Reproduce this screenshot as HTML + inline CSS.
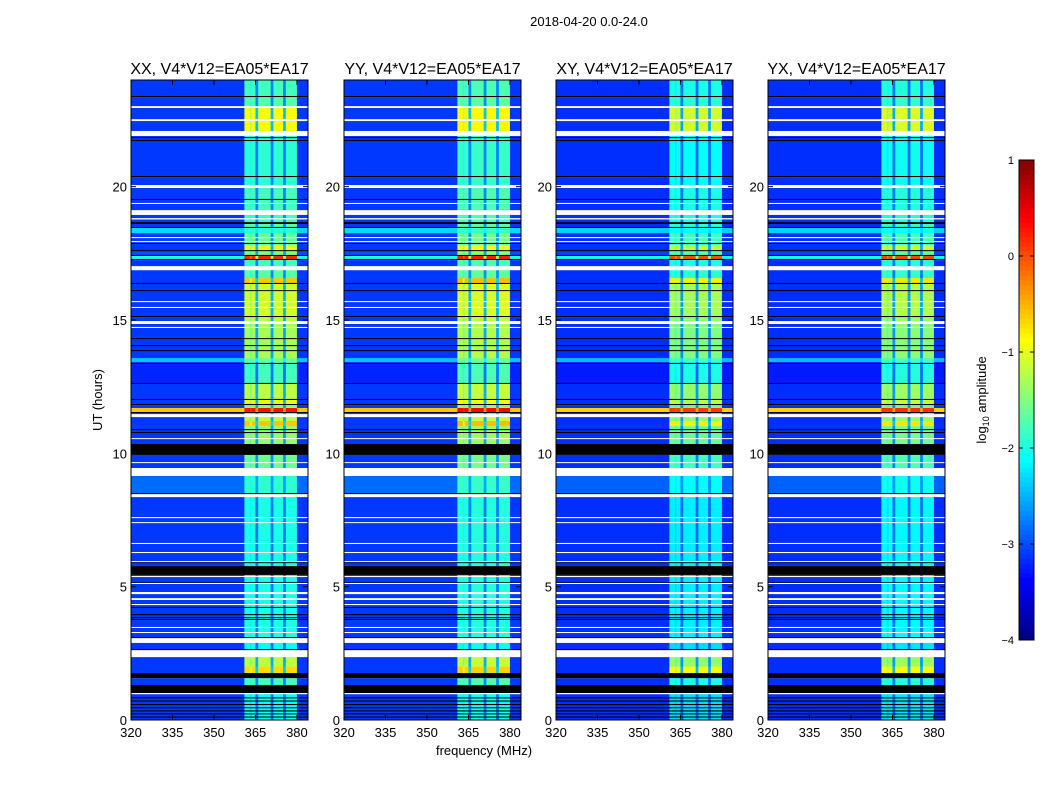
<!DOCTYPE html>
<html><head><meta charset="utf-8">
<style>
body{margin:0;background:#fff;}
svg{display:block;font-family:"Liberation Sans",sans-serif;}
</style></head>
<body>
<svg id="chart" width="1050" height="800" xmlns="http://www.w3.org/2000/svg">
<text x="589" y="26" font-size="13" text-anchor="middle">2018-04-20 0.0-24.0</text>
<text x="484" y="755" font-size="13" text-anchor="middle">frequency (MHz)</text>
<text x="0" y="0" font-size="13" text-anchor="middle" transform="translate(102,400) rotate(-90)">UT (hours)</text>
<text x="0" y="0" font-size="13" text-anchor="middle" transform="translate(986,400) rotate(-90)">log<tspan font-size="9" dy="3">10</tspan><tspan dy="-3"> amplitude</tspan></text>
<g id="panels"></g>
<g id="cbar"></g>
</svg>
<script>
// ---- data ----
const panelNames = ["XX", "YY", "XY", "YX"];
const panelBandOffset = [0, 0.05, -0.2, -0.15];
const panelBgOffset = [0, 0, -0.05, -0.05];
const xTicks = [320, 335, 350, 365, 380];
const yTicks = [0, 5, 10, 15, 20];
const cbarTicks = [1, 0, -1, -2, -3, -4];
const cbarLabels = ["1", "0", "\u22121", "\u22122", "\u22123", "\u22124"];
// channel edges (MHz) and band weight (0 = background, 1 = full band level)
const chanEdges = [320, 361, 363, 363.6, 365, 366, 370.5, 371.5, 375, 376, 380, 384];
const chanWeight = [0, 1, 0.85, 1, 0.3, 1, 0.3, 1, 0.3, 1, 0];
// data segments: [topHour, bottomHour, backgroundLog, bandLog]
const dataSegs = [
[24,23.40,-3.1,-1.8],[23.36,22.95,-3.1,-1.7],[22.95,22.10,-3.1,-0.9],[21.90,20.40,-3.1,-1.9],
[20.36,20.06,-3.1,-1.9],[19.95,18.67,-3.1,-1.8],[18.60,18.45,-3.1,-1.7],[18.45,18.26,-2.3,-1.9],
[18.26,17.81,-3.1,-1.6],[17.81,17.62,-3.1,-1.0],[17.59,17.44,-3.0,-1.5],[17.40,17.29,-2.0,0.2],
[17.25,17.02,-3.1,-1.8],[16.87,16.57,-3.1,-1.7],[16.57,16.39,-3.1,-0.6],[16.35,15.15,-3.1,-1.1],
[15.11,14.96,-3.1,-1.2],[14.85,13.57,-3.1,-1.3],[13.57,13.42,-2.4,-1.6],[13.42,12.64,-3.2,-1.8],
[12.60,12.04,-3.1,-1.2],[12.00,11.85,-3.1,-1.0],[11.81,11.70,-3.1,-1.4],[11.70,11.55,-0.6,0.3],
[11.51,11.47,-3.1,-1.5],[11.36,11.21,-3.1,-1.2],[11.21,11.02,-3.1,-0.6],[11.02,10.35,-3.1,-1.4],
[9.94,9.45,-3.1,-1.6],[9.15,8.51,-2.85,-1.9],[8.36,5.77,-3.1,-2.0],[5.44,5.10,-3.1,-2.0],
[5.10,2.89,-3.1,-2.0],[2.89,2.66,-3.1,-2.1],[2.36,2.00,-3.1,-1.2],[2.00,1.76,-3.1,-0.7],
[1.57,1.31,-3.1,-1.8],[0.97,0,-3.1,-2.1]
];
// flagged (blanked) rows
const whiteFlags = [
[23.02,22.95],[22.53,22.46],[22.08,21.90],[20.06,19.95],[19.39,19.35],[19.12,18.94],[18.82,18.77],
[18.11,18.07],[17.96,17.92],[17.02,16.87],[15.71,15.67],[15.49,15.45],[14.96,14.85],[14.74,14.70],
[11.47,11.36],[10.57,10.54],[9.67,9.64],[9.45,9.15],[8.44,8.36],[7.61,7.57],[7.42,7.39],[6.64,6.60],
[6.30,6.26],[5.96,5.92],[5.40,5.36],[5.14,5.10],[4.80,4.72],[4.57,4.50],[4.35,4.31],[3.49,3.45],
[3.30,3.26],[3.07,2.89],[2.59,2.36],[1.01,0.97]
];
const blackFlags = [
[10.35,9.94],[5.77,5.44],[1.76,1.57],[1.31,1.01],
[23.40,23.36],[21.86,21.82],[21.75,21.71],[20.40,20.36],[19.54,19.50],[18.67,18.60],[18.49,18.45],
[17.89,17.85],[17.62,17.59],[17.44,17.40],[17.29,17.25],[16.39,16.35],[16.12,16.09],[15.15,15.11],
[14.32,14.29],[14.06,14.02],[13.87,13.84],[13.39,13.35],[12.64,12.60],[12.04,12.00],[11.85,11.81],
[11.55,11.51],[10.91,10.87],[10.80,10.76],[8.51,8.47],[5.92,5.89],[5.17,5.14],[4.24,4.20],[3.97,3.94],
[3.86,3.82],[3.79,3.75],[3.11,3.07],[2.66,2.62],[0.85,0.81],[0.73,0.69],[0.60,0.56],[0.48,0.44],
[0.36,0.32],[0.25,0.21],[0.13,0.09]
];
const vmin = -4, vmax = 1;

// ---- layout ----
const NS = "http://www.w3.org/2000/svg";
const panelX = [131, 344, 556, 768];
const PW = 177, PT = 80, PB = 720;
const fMin = 320, fMax = 384, hMax = 24;
function xS(p, f){ return panelX[p] + (f - fMin) / (fMax - fMin) * PW; }
function yS(h){ return PB - h / hMax * (PB - PT); }
function cl(v){ return Math.max(0, Math.min(1, v)); }
function jet(v){
  const t = cl((v - vmin) / (vmax - vmin));
  const r = cl(1.5 - Math.abs(4*t - 3)), g = cl(1.5 - Math.abs(4*t - 2)), b = cl(1.5 - Math.abs(4*t - 1));
  return "rgb(" + Math.round(r*255) + "," + Math.round(g*255) + "," + Math.round(b*255) + ")";
}
function mk(tag, attrs, parent){
  const e = document.createElementNS(NS, tag);
  for (const k in attrs) e.setAttribute(k, attrs[k]);
  parent.appendChild(e); return e;
}
const panels = document.getElementById("panels");
panelNames.forEach((nm, p) => {
  const g = mk("g", {}, panels);
  
  
  const bg = mk("rect", {x: panelX[p], y: PT, width: PW, height: PB - PT, fill: "#fff"}, g);
  
  
  dataSegs.forEach(s => {
    for (let c = 0; c < chanWeight.length; c++) {
      const bgv = s[2] + panelBgOffset[p];
      const bandv = s[3] + panelBandOffset[p];
      const v = bgv + chanWeight[c] * (bandv - bgv);
      const x1 = xS(p, chanEdges[c]), x2 = xS(p, chanEdges[c+1]);
      const r = mk("rect", {x: x1, y: yS(s[0]), width: x2 - x1 + 0.3, height: yS(s[1]) - yS(s[0]) + 0.3, fill: jet(v)}, g);
      
      
    }
  });
  blackFlags.forEach(f => {
    const r = mk("rect", {x: panelX[p], y: yS(f[0]), width: PW, height: Math.max(1, yS(f[1]) - yS(f[0])), fill: "#000"}, g);
    
    
  });
  whiteFlags.forEach(f => {
    const r = mk("rect", {x: panelX[p], y: yS(f[0]), width: PW, height: Math.max(1, yS(f[1]) - yS(f[0])), fill: "#fff"}, g);
    
    
  });
  const fr = mk("rect", {x: panelX[p], y: PT, width: PW, height: PB - PT, fill: "none", stroke: "#000", "stroke-width": 1}, g);
  
  
  const t = mk("text", {x: panelX[p] + PW/2, y: 74, "font-size": 16, "text-anchor": "middle"}, g);
  t.textContent = nm + ", V4*V12=EA05*EA17";
  
  
  xTicks.forEach(f => {
    const x = xS(p, f);
    mk("line", {x1: x, x2: x, y1: PB, y2: PB - 5, stroke: "#000"}, g);
    mk("line", {x1: x, x2: x, y1: PT, y2: PT + 5, stroke: "#000"}, g);
    const l = mk("text", {x: x, y: PB + 17, "font-size": 13, "text-anchor": "middle"}, g);
    l.textContent = f;
    
    
  });
  yTicks.forEach(h => {
    const y = yS(h);
    mk("line", {x1: panelX[p], x2: panelX[p] + 5, y1: y, y2: y, stroke: "#000"}, g);
    mk("line", {x1: panelX[p] + PW, x2: panelX[p] + PW - 5, y1: y, y2: y, stroke: "#000"}, g);
    const l = mk("text", {x: panelX[p] - 4, y: y + 5, "font-size": 13, "text-anchor": "end"}, g);
    l.textContent = h;
    
    
  });
});
// colorbar
const cb = document.getElementById("cbar");
const CX = 1019, CW = 15, CT = 160, CBt = 640;
function cY(v){ return CBt - (v - vmin) / (vmax - vmin) * (CBt - CT); }
for (let i = 0; i < 100; i++) {
  const v0 = vmin + (vmax - vmin) * i / 100, v1 = vmin + (vmax - vmin) * (i + 1) / 100;
  const r = mk("rect", {x: CX, y: cY(v1), width: CW, height: cY(v0) - cY(v1) + 0.5, fill: jet((v0 + v1) / 2)}, cb);
  
  
}
const cf = mk("rect", {x: CX, y: CT, width: CW, height: CBt - CT, fill: "none", stroke: "#000"}, cb);


cbarTicks.forEach((v, i) => {
  const y = cY(v);
  mk("line", {x1: CX, x2: CX + 4, y1: y, y2: y, stroke: "#000"}, cb);
  mk("line", {x1: CX + CW, x2: CX + CW - 4, y1: y, y2: y, stroke: "#000"}, cb);
  const l = mk("text", {x: CX - 5, y: y + 4, "font-size": 11, "text-anchor": "end"}, cb);
  l.textContent = cbarLabels[i];
  
  
});
</script>
</body></html>
